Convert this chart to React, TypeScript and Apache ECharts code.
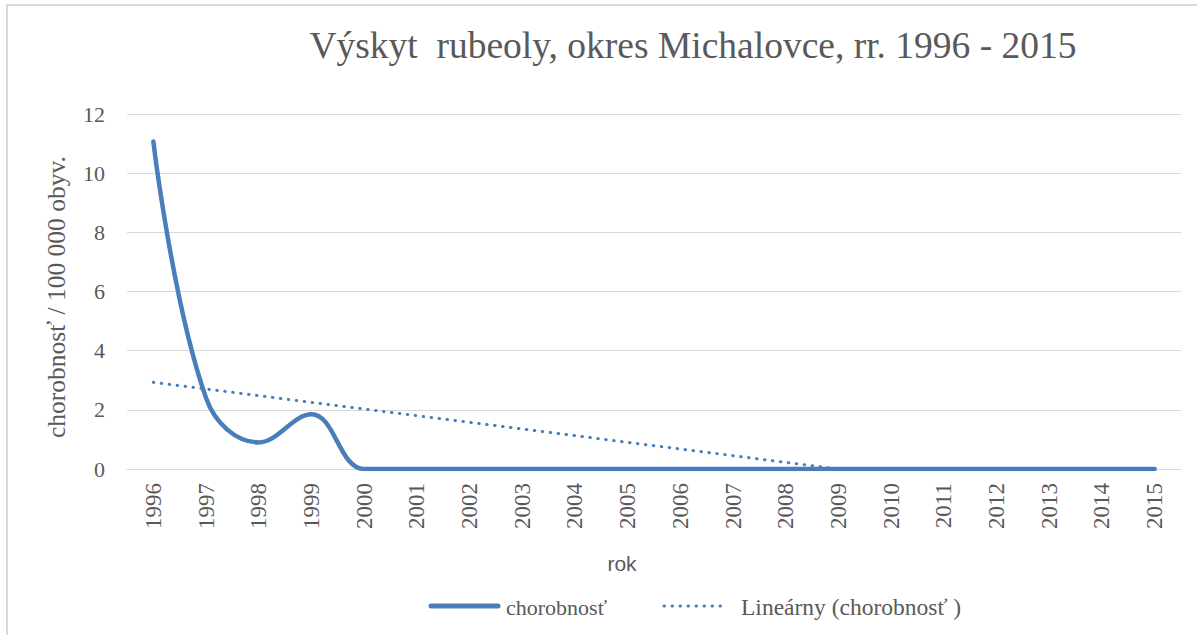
import React, { useEffect, useRef } from "react";
import * as echarts from "echarts";

const years = [
  "1996", "1997", "1998", "1999", "2000", "2001", "2002", "2003", "2004", "2005",
  "2006", "2007", "2008", "2009", "2010", "2011", "2012", "2013", "2014", "2015",
];
const incidence = [11.07, 2.4, 0.9, 1.85, 0, 0, 0, 0, 0, 0, 0, 0, 0, 0, 0, 0, 0, 0, 0, 0];
// linear trend: 2.93 at 1996, reaches 0 at 2009 (clipped below)
const trend = [2.93, null, null, null, null, null, null, null, null, null, null, null, null, 0, null, null, null, null, null, null];
const yTicks = { min: 0, max: 12, interval: 2 };

const TITLE = "Výskyt  rubeoly, okres Michalovce, rr. 1996 - 2015";
const SERIES1 = "chorobnosť";
const SERIES2 = "Lineárny (chorobnosť )";
const Y_NAME = "chorobnosť / 100 000 obyv.";
const X_NAME = "rok";

const BLUE = "#4a7ebb";
const GREY = "#595959";
const SERIF = "Liberation Serif";
const SANS = "Liberation Sans";
const DOT: number[] = [0.5, 7.5];

export default function App() {
  const ref = useRef<HTMLDivElement>(null);
  useEffect(() => {
    if (!ref.current) return;
    const chart = echarts.init(ref.current, undefined, { renderer: "svg" });
    chart.setOption({
      animation: false,
      backgroundColor: "#ffffff",
      grid: { left: 127, right: 16, top: 114, bottom: 166, containLabel: false },
      xAxis: {
        type: "category",
        data: years,
        boundaryGap: true,
        axisLine: { show: true, lineStyle: { color: "#d9d9d9", width: 1 } },
        axisTick: { show: false },
        axisLabel: {
          rotate: 90,
          margin: 14,
          color: GREY,
          fontFamily: SERIF,
          fontSize: 23,
          interval: 0,
        },
        splitLine: { show: false },
      },
      yAxis: {
        type: "value",
        min: yTicks.min,
        max: yTicks.max,
        interval: yTicks.interval,
        axisLine: { show: false },
        axisTick: { show: false },
        axisLabel: { color: GREY, fontFamily: SERIF, fontSize: 22, margin: 22 },
        splitLine: { show: true, lineStyle: { color: "#d9d9d9", width: 1 } },
      },
      series: [
        {
          name: SERIES1,
          type: "line",
          data: incidence,
          smooth: 0.4,
          symbol: "none",
          showSymbol: false,
          lineStyle: { color: BLUE, width: 4.5, cap: "round" },
          itemStyle: { color: BLUE },
          z: 3,
        },
        {
          name: SERIES2,
          type: "line",
          data: trend,
          connectNulls: true,
          symbol: "none",
          showSymbol: false,
          lineStyle: { color: BLUE, width: 3, type: DOT, cap: "round" },
          itemStyle: { color: BLUE },
          z: 2,
        },
      ],
      graphic: [
        {
          type: "rect",
          shape: { x: 7, y: 5, width: 1250, height: 700 },
          style: { fill: "none", stroke: "#d9d9d9", lineWidth: 2 },
          silent: true,
          z: 0,
        },
        {
          type: "text",
          x: 693,
          y: 45,
          style: {
            text: TITLE,
            fill: GREY,
            fontFamily: SERIF,
            fontSize: 37.5,
            align: "center",
            verticalAlign: "middle",
          },
        },
        {
          type: "text",
          x: 56,
          y: 297,
          rotation: Math.PI / 2,
          style: {
            text: Y_NAME,
            fill: GREY,
            fontFamily: SERIF,
            fontSize: 25.5,
            align: "center",
            verticalAlign: "middle",
          },
        },
        {
          type: "text",
          x: 622,
          y: 563,
          style: {
            text: X_NAME,
            fill: GREY,
            fontFamily: SANS,
            fontSize: 21,
            align: "center",
            verticalAlign: "middle",
          },
        },
        // legend
        {
          type: "line",
          shape: { x1: 431, y1: 606, x2: 498, y2: 606 },
          style: { stroke: BLUE, lineWidth: 5, lineCap: "round" },
        },
        {
          type: "text",
          x: 506,
          y: 607,
          style: {
            text: SERIES1,
            fill: GREY,
            fontFamily: SERIF,
            fontSize: 22,
            align: "left",
            verticalAlign: "middle",
          },
        },
        {
          type: "line",
          shape: { x1: 664, y1: 606, x2: 728, y2: 606 },
          style: { stroke: BLUE, lineWidth: 3, lineDash: DOT, lineCap: "round" },
        },
        {
          type: "text",
          x: 741,
          y: 607,
          style: {
            text: SERIES2,
            fill: GREY,
            fontFamily: SERIF,
            fontSize: 23.5,
            align: "left",
            verticalAlign: "middle",
          },
        },
      ],
    });
    return () => chart.dispose();
  }, []);
  return (
    <div
      ref={ref}
      style={{ position: "absolute", left: 0, top: 0, width: 1197, height: 635 }}
    />
  );
}
